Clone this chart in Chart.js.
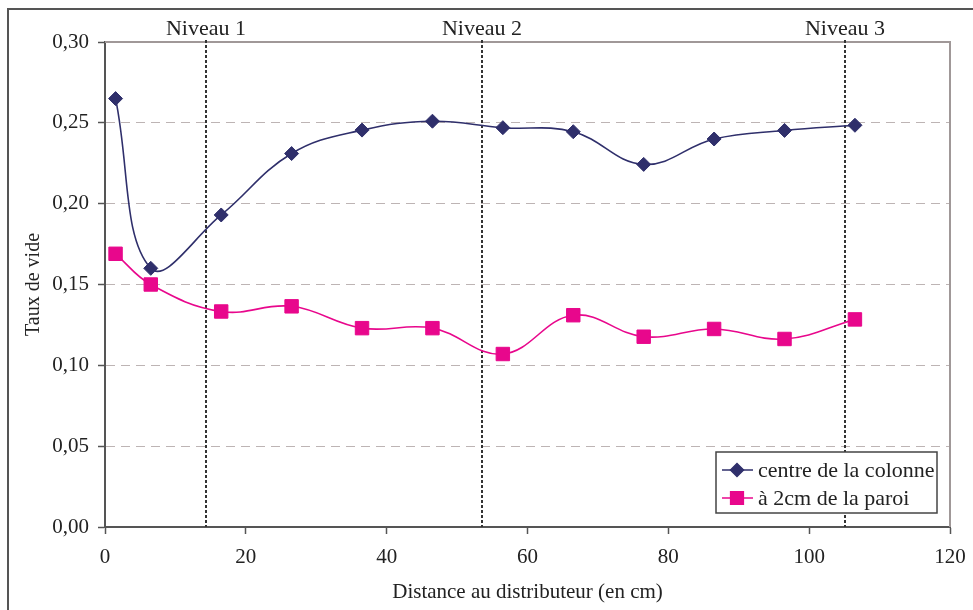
<!DOCTYPE html>
<html>
<head>
<meta charset="utf-8">
<script src="https://cdn.jsdelivr.net/npm/chart.js@4"></script>
<style>
  body { margin: 0; background: #fff; }
  #graficoWrapper { width: 973px; height: 610px; }
</style>
</head>
<body>
<div id="graficoWrapper"><canvas id="grafico" width="973" height="610"></canvas></div>
<script>
// Données
const distances = [1.5, 6.5, 16.5, 26.5, 36.5, 46.5, 56.5, 66.5, 76.5, 86.5, 96.5, 106.5];
const centreColonne = [0.265, 0.160, 0.193, 0.231, 0.2455, 0.251, 0.247, 0.2445, 0.2243, 0.240, 0.2453, 0.2485];
const paroi2cm = [0.169, 0.150, 0.1333, 0.1365, 0.123, 0.123, 0.107, 0.131, 0.1177, 0.1225, 0.1163, 0.1284];
const niveauxX = [14.3, 53.5, 105.1];
const niveauxLabels = ['Niveau 1', 'Niveau 2', 'Niveau 3'];
const serieLabels = ['centre de la colonne', 'à 2cm de la paroi'];

const police = "'Liberation Serif', 'Times New Roman', serif";
const bleu = '#2f2f6b';
const rose = '#e8078c';

function points(ys) {
  return distances.map((x, i) => ({ x: x, y: ys[i] }));
}

const decor = {
  id: 'decor',
  beforeDraw(chart) {
    const ctx = chart.ctx;
    ctx.save();
    ctx.strokeStyle = '#555';
    ctx.lineWidth = 2;
    ctx.beginPath();
    ctx.moveTo(8, 610);
    ctx.lineTo(8, 9);
    ctx.lineTo(973, 9);
    ctx.stroke();
    ctx.restore();
  },
  beforeDatasetsDraw(chart) {
    const ctx = chart.ctx;
    const a = chart.chartArea;
    const xs = chart.scales.x;
    ctx.save();
    // cadre haut / droite
    ctx.strokeStyle = '#a09898';
    ctx.lineWidth = 2;
    ctx.beginPath();
    ctx.moveTo(a.left, a.top);
    ctx.lineTo(a.right, a.top);
    ctx.lineTo(a.right, a.bottom);
    ctx.stroke();
    // niveaux
    ctx.strokeStyle = '#333';
    ctx.lineWidth = 2;
    ctx.setLineDash([3, 2]);
    ctx.font = '22px ' + police;
    ctx.fillStyle = '#222';
    ctx.textAlign = 'center';
    ctx.textBaseline = 'alphabetic';
    niveauxX.forEach((v, i) => {
      const px = Math.round(xs.getPixelForValue(v));
      ctx.beginPath();
      ctx.moveTo(px, a.top - 2);
      ctx.lineTo(px, a.bottom);
      ctx.stroke();
      ctx.fillText(niveauxLabels[i], px, 35);
    });
    ctx.restore();
  },
  afterDraw(chart) {
    const ctx = chart.ctx;
    ctx.save();
    ctx.fillStyle = '#fff';
    ctx.fillRect(716, 452, 221, 61);
    ctx.strokeStyle = '#444';
    ctx.lineWidth = 1.5;
    ctx.strokeRect(716, 452, 221, 61);
    const rows = [470, 498];
    ctx.font = '22px ' + police;
    ctx.textBaseline = 'middle';
    ctx.textAlign = 'left';
    chart.data.datasets.forEach((ds, i) => {
      const y = rows[i];
      ctx.strokeStyle = ds.borderColor;
      ctx.lineWidth = 1.5;
      ctx.beginPath();
      ctx.moveTo(722, y);
      ctx.lineTo(753, y);
      ctx.stroke();
      Chart.helpers.drawPoint(ctx, {
        pointStyle: ds.pointStyle,
        radius: ds.pointRadius - 0.5,
        borderWidth: 1
      }, 737, y);
      ctx.fillStyle = ds.borderColor;
      ctx.fill();
      ctx.fillStyle = '#222';
      ctx.fillText(serieLabels[i], 758, y + 1);
    });
    ctx.restore();
  }
};

const ctx = document.getElementById('grafico').getContext('2d');
new Chart(ctx, {
  type: 'line',
  data: {
    datasets: [{
      label: serieLabels[0],
      data: points(centreColonne),
      borderColor: bleu,
      backgroundColor: bleu,
      borderWidth: 1.6,
      tension: 0.4,
      pointStyle: 'rectRot',
      pointRadius: 7,
      pointBorderWidth: 1,
      pointBackgroundColor: bleu,
      pointBorderColor: bleu
    }, {
      label: serieLabels[1],
      data: points(paroi2cm),
      borderColor: rose,
      backgroundColor: rose,
      borderWidth: 1.6,
      tension: 0.4,
      pointStyle: 'rect',
      pointRadius: 9.5,
      pointBorderWidth: 1,
      pointBackgroundColor: rose,
      pointBorderColor: rose
    }]
  },
  options: {
    responsive: false,
    animation: false,
    layout: { padding: { top: 42, right: 23, left: 0, bottom: 0 } },
    plugins: {
      legend: { display: false },
      tooltip: { enabled: false }
    },
    scales: {
      x: {
        type: 'linear',
        min: 0,
        max: 120,
        ticks: {
          stepSize: 20,
          color: '#222',
          padding: 11,
          maxRotation: 0,
          font: { family: police, size: 21 }
        },
        grid: { drawOnChartArea: false, tickLength: 7, tickColor: '#555', tickWidth: 1.5 },
        border: { color: '#555', width: 2 },
        title: {
          display: true,
          text: 'Distance au distributeur (en cm)',
          color: '#222',
          font: { family: police, size: 21 },
          padding: { top: 0, bottom: 5 }
        },
        afterFit: s => { s.height = 83; s.paddingLeft = 0; s.paddingRight = 0; }
      },
      y: {
        min: 0,
        max: 0.3,
        ticks: {
          stepSize: 0.05,
          color: '#222',
          padding: 9,
          font: { family: police, size: 21 },
          callback: v => v.toFixed(2).replace('.', ',')
        },
        grid: {
          color: c => (c.tick && (c.tick.value < 0.001 || c.tick.value > 0.299)) ? 'rgba(0,0,0,0)' : '#bdb4b4',
          tickColor: '#555',
          tickLength: 7,
          tickWidth: 1.5,
          lineWidth: 1
        },
        border: { color: '#555', width: 2, dash: [9, 6] },
        title: {
          display: true,
          text: 'Taux de vide',
          color: '#222',
          font: { family: police, size: 20 },
          padding: { top: 22, bottom: 0 }
        },
        afterFit: s => { s.width = 105; s.paddingTop = 0; s.paddingBottom = 0; }
      }
    }
  },
  plugins: [decor]
});
</script>
</body>
</html>
